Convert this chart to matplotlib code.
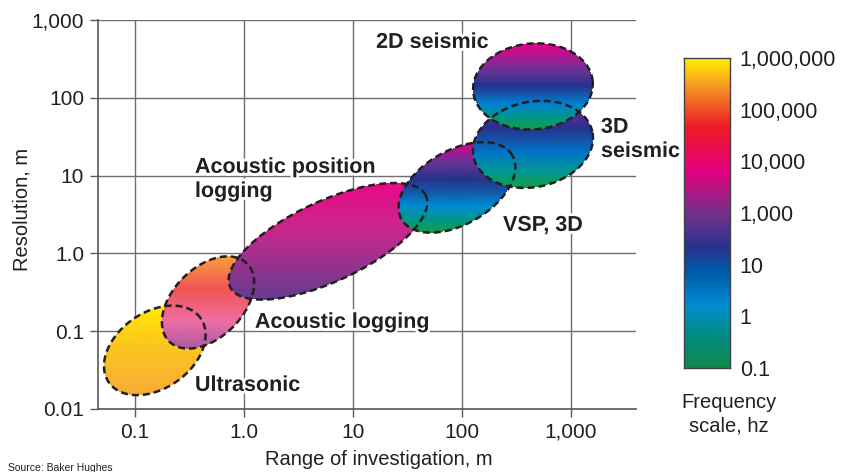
import numpy as np
import matplotlib
matplotlib.use("Agg")
import matplotlib.pyplot as plt
import matplotlib.patheffects as pe
from matplotlib.colors import LinearSegmentedColormap
from matplotlib.patches import Polygon

plt.rcParams['font.family'] = ['Liberation Sans', 'DejaVu Sans']
INK = '#231f20'

# methods: centre (range m, resolution m), semi-axes (decades), tilt (deg)
names = ['Ultrasonic', 'Acoustic logging', 'Acoustic position logging',
         'VSP, 3D', '3D seismic', '2D seismic']
center_range = [0.152, 0.468, 5.9, 90, 448, 448]
center_res = [0.0567, 0.234, 1.43, 7.05, 25.2, 140]
semi_major = [0.514, 0.505, 0.991, 0.587, 0.557, 0.55]
semi_minor = [0.349, 0.321, 0.367, 0.339, 0.391, 0.394]
tilt = [35, 45, 25, 30, 12, 5]

# colour gradients, top -> bottom
grad = [
    [(0, '#ffec00'), (0.4, '#fcc81e'), (1, '#f7aa37')],
    [(0, '#f6a03c'), (0.35, '#f05555'), (0.7, '#ee6ea5'), (1, '#aa5aa0')],
    [(0, '#e80a87'), (0.4, '#c8288c'), (0.7, '#96328c'), (1, '#643c91')],
    [(0, '#e6008c'), (0.2, '#6e3296'), (0.4, '#28328c'), (0.55, '#145aaa'),
     (0.7, '#008cd2'), (0.85, '#00968c'), (1, '#14a046')],
    [(0, '#8c2896'), (0.3, '#28328c'), (0.6, '#0078c8'), (0.8, '#009696'),
     (1, '#14a046')],
    [(0, '#eb008c'), (0.3, '#6e3296'), (0.48, '#28328c'), (0.7, '#0082d2'),
     (0.85, '#00968c'), (1, '#14a046')],
]

x_ticks = [0.1, 1, 10, 100, 1000]
x_labels = ['0.1', '1.0', '10', '100', '1,000']
y_ticks = [0.01, 0.1, 1, 10, 100, 1000]
y_labels = ['0.01', '0.1', '1.0', '10', '100', '1,000']

freq_labels = ['0.1', '1', '10', '1,000', '10,000', '100,000', '1,000,000']
freq_stops = [(0, '#10894a'), (0.12, '#008c8c'), (0.2, '#008cd2'),
              (0.31, '#005aaa'), (0.39, '#28328c'), (0.49, '#6e328c'),
              (0.64, '#e6007d'), (0.78, '#ed1c24'), (0.9, '#f58c28'),
              (1, '#fff000')]

fig = plt.figure(figsize=(8.54, 4.72), dpi=100)
ax = fig.add_axes([98 / 854, 63 / 472, 538 / 854, 389 / 472])
ax.set_xscale('log')
ax.set_yscale('log')
xlim = (0.0458, 3950)
ylim = (0.01, 1000)
ax.set_xlim(*xlim)
ax.set_ylim(*ylim)

# screen aspect: y decades look shorter than x decades
px_x = 538 / np.log10(xlim[1] / xlim[0])
px_y = 389 / np.log10(ylim[1] / ylim[0])
k = px_x / px_y

t = np.linspace(0, 2 * np.pi, 400)
outlines = []
for i in range(len(names)):
    th = np.radians(tilt[i])
    a, b = semi_major[i], semi_minor[i]
    dx = a * np.cos(t) * np.cos(th) - b * np.sin(t) * np.sin(th)
    dy = a * np.cos(t) * np.sin(th) + b * np.sin(t) * np.cos(th)
    lx = np.log10(center_range[i]) + dx
    ly = np.log10(center_res[i]) + dy * k
    poly = Polygon(np.column_stack([10 ** lx, 10 ** ly]), closed=True,
                   transform=ax.transData, facecolor='none', edgecolor='none')
    gx = np.linspace(lx.min(), lx.max(), 3)
    gy = np.linspace(ly.min(), ly.max(), 150)
    GX, GY = np.meshgrid(gx, gy)
    C = (ly.max() - GY) / (ly.max() - ly.min())
    cmap = LinearSegmentedColormap.from_list('g%d' % i, grad[i])
    m = ax.pcolormesh(10 ** GX, 10 ** GY, C, cmap=cmap, vmin=0, vmax=1,
                      shading='gouraud', zorder=2 + i * 0.01)
    m.set_clip_path(poly)
    outlines.append((10 ** lx, 10 ** ly))

for ox, oy in outlines:
    ax.plot(ox, oy, color=INK, lw=1.8, ls=(0, (2.8, 1.6)), zorder=3)

ax.set_axisbelow(True)
ax.grid(True, color='#6d6e71', lw=1)
ax.minorticks_off()
ax.set_xticks(x_ticks)
ax.set_xticklabels(x_labels)
ax.set_yticks(y_ticks)
ax.set_yticklabels(y_labels)
ax.tick_params(direction='out', length=6, width=1, color='#58595b',
               labelsize=15, labelcolor=INK, pad=4)
for s in ['top', 'right']:
    ax.spines[s].set_visible(False)
for s in ['left', 'bottom']:
    ax.spines[s].set_color('#58595b')
    ax.spines[s].set_linewidth(1.2)
ax.set_xlabel('Range of investigation, m', fontsize=14.5, color=INK, va='center')
ax.set_ylabel('Resolution, m', fontsize=14.5, color=INK, va='center')
ax.xaxis.set_label_coords(0.522, -0.131)
ax.yaxis.set_label_coords(-0.141, 0.512)

halo = [pe.withStroke(linewidth=4, foreground='white')]
lab = dict(fontsize=15.5, fontweight='bold', color=INK, va='center', ha='left',
           zorder=4, path_effects=halo)
ax.text(16.3, 515, '2D seismic', **lab)
ax.text(1884, 29.2, '3D\nseismic', linespacing=1.2, **lab)
ax.text(238, 2.29, 'VSP, 3D', **lab)
ax.text(0.355, 8.93, 'Acoustic position\nlogging', linespacing=1.2, **lab)
ax.text(1.26, 0.13, 'Acoustic logging', **lab)
ax.text(0.355, 0.0201, 'Ultrasonic', **lab)

# frequency scale bar
cax = fig.add_axes([684 / 854, (472 - 368) / 472, 46 / 854, 310 / 472])
fcmap = LinearSegmentedColormap.from_list('freq', freq_stops)
n = len(freq_labels) - 1
cax.imshow(np.linspace(0, 1, 256).reshape(-1, 1), cmap=fcmap, origin='lower',
           aspect='auto', extent=[0, 1, 0, n])
cax.set_xticks([])
cax.yaxis.tick_right()
cax.set_yticks(range(len(freq_labels)))
cax.set_yticklabels(freq_labels)
cax.tick_params(length=0, labelsize=15.5, labelcolor=INK, pad=7)
for s in cax.spines.values():
    s.set_color('#414042')
    s.set_linewidth(1)
fig.text(729 / 854, 1 - 414 / 472, 'Frequency\nscale, hz', ha='center',
         va='center', fontsize=14.5, color=INK, linespacing=1.3)

fig.text(8 / 854, 1 - 463 / 472, 'Source: Baker Hughes', fontsize=7.5,
         va='top', color=INK)

fig.savefig('out.png', dpi=100)
